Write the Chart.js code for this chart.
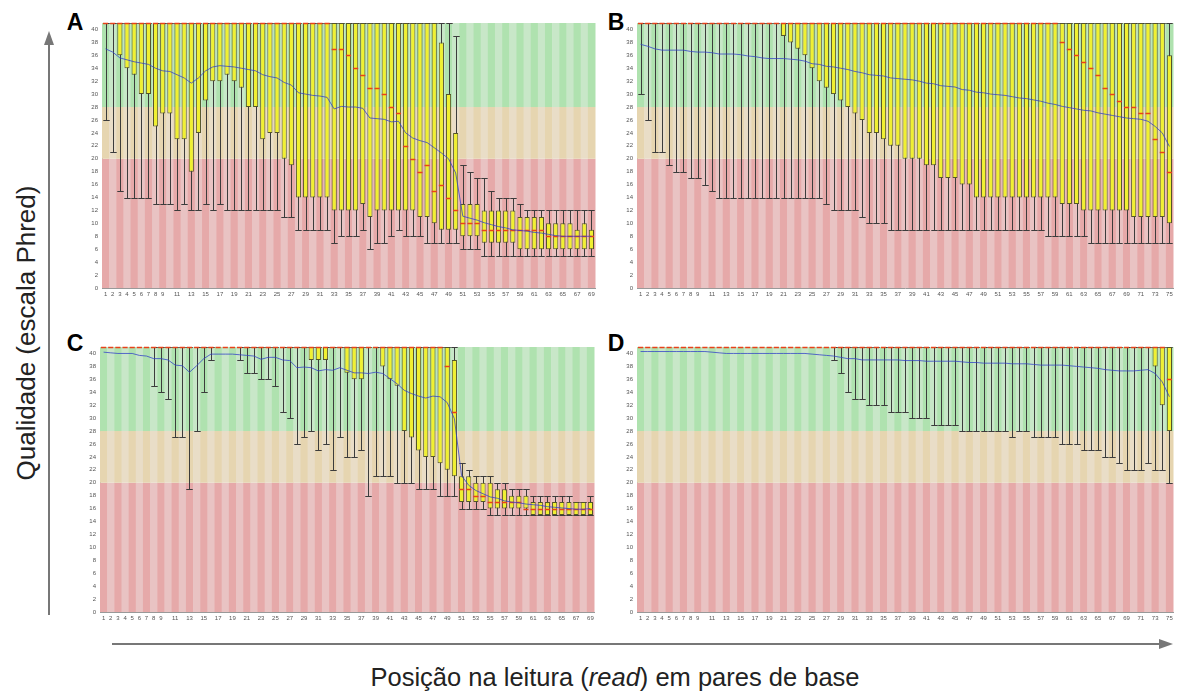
<!DOCTYPE html>
<html>
<head>
<meta charset="utf-8">
<title>Qualidade por posição</title>
<script src="https://cdn.jsdelivr.net/npm/chart.js@4.4.1/dist/chart.umd.min.js"></script>
<style>
    body { margin: 0; background: #fff; }
    #page { position: relative; width: 1179px; height: 693px; overflow: hidden; font-family: "Liberation Sans", Arial, sans-serif; }
    .panel { position: absolute; }
    .tag { position: absolute; font-weight: bold; font-size: 23px; color: #000; transform: translate(-50%, -50%); }
    #yTitle { position: absolute; left: 26px; top: 333px; font-size: 26px; color: #222; white-space: nowrap; transform: translate(-50%, -50%) rotate(-90deg); }
    #xTitle { position: absolute; left: 615px; top: 677px; font-size: 25.5px; color: #222; white-space: nowrap; transform: translate(-50%, -50%); }
    #arrows { position: absolute; left: 0; top: 0; }
</style>
</head>
<body>
<div id="page">
    <svg id="arrows" width="1179" height="693">
        <line x1="49" y1="615" x2="49" y2="42" stroke="#777" stroke-width="2"/>
        <polygon points="49,31 44,45 54,45" fill="#777"/>
        <line x1="112" y1="644" x2="1162" y2="644" stroke="#777" stroke-width="2"/>
        <polygon points="1173,644 1159,639 1159,649" fill="#777"/>
    </svg>

    <div class="tag" style="left:75px; top:22px">A</div>
    <div class="tag" style="left:616px; top:22px">B</div>
    <div class="tag" style="left:75px; top:343px">C</div>
    <div class="tag" style="left:616px; top:343px">D</div>

    <canvas id="chartA" class="panel" width="519" height="281" style="left:80px; top:20px"></canvas>
    <canvas id="chartB" class="panel" width="562" height="281" style="left:615px; top:20px"></canvas>
    <canvas id="chartC" class="panel" width="520" height="281" style="left:78px; top:344px"></canvas>
    <canvas id="chartD" class="panel" width="562" height="281" style="left:615px; top:344px"></canvas>

    <div id="yTitle">Qualidade (escala Phred)</div>
    <div id="xTitle">Posição na leitura (<i>read</i>) em pares de base</div>
</div>

<script>
// Phred scale ticks and the red / orange / green quality zones
const yTicks = [0, 2, 4, 6, 8, 10, 12, 14, 16, 18, 20, 22, 24, 26, 28, 30, 32, 34, 36, 38, 40];
const bandEdges = [0, 20, 28, 41];
const bandColors = [['#e6a9a9', '#e9c3c3'], ['#e6d5b0', '#e9ddc7'], ['#afe2af', '#c8e7c8']];

// Amostra A - 69 pb
const aLow = [26, 21, 15, 14, 14, 14, 14, 13, 13, 13,
    12, 13, 12, 12, 13, 12, 13, 12, 12, 12,
    12, 12, 12, 12, 12, 11, 11, 9, 9, 9,
    9, 9, 7, 8, 8, 8, 9, 6, 7, 7,
    8, 9, 8, 8, 8, 7, 7, 7, 7, 7,
    6, 6, 6, 5, 5, 5, 5, 5, 5, 5,
    5, 5, 5, 5, 5, 5, 5, 5, 5];
const aQ1 = [41, 41, 36, 34, 33, 30, 30, 25, 27, 27,
    23, 23, 18, 24, 29, 32, 32, 33, 32, 31,
    28, 28, 23, 24, 24, 20, 19, 14, 14, 14,
    14, 14, 12, 12, 12, 12, 13, 11, 12, 12,
    12, 12, 12, 12, 11, 11, 10, 9, 9, 9,
    8, 8, 8, 7, 7, 7, 7, 7, 6, 6,
    6, 6, 6, 6, 6, 6, 6, 6, 6];
const aMed = [41, 41, 41, 41, 41, 41, 41, 41, 41, 41,
    41, 41, 41, 41, 41, 41, 41, 41, 41, 41,
    41, 41, 41, 41, 41, 41, 41, 41, 41, 41,
    41, 41, 37, 37, 36, 34, 33, 31, 31, 30,
    28, 27, 22, 20, 18, 19, 15, 16, 14, 12,
    10, 10, 10, 9, 9, 9, 9, 9, 9, 9,
    9, 9, 8, 8, 8, 8, 8, 8, 8];
const aQ3 = [41, 41, 41, 41, 41, 41, 41, 41, 41, 41,
    41, 41, 41, 41, 41, 41, 41, 41, 41, 41,
    41, 41, 41, 41, 41, 41, 41, 41, 41, 41,
    41, 41, 41, 41, 41, 41, 41, 41, 41, 41,
    41, 41, 41, 41, 41, 41, 41, 38, 30, 24,
    13, 13, 13, 12, 12, 12, 12, 12, 11, 11,
    11, 11, 10, 10, 10, 10, 9, 10, 9];
const aHigh = [41, 41, 41, 41, 41, 41, 41, 41, 41, 41,
    41, 41, 41, 41, 41, 41, 41, 41, 41, 41,
    41, 41, 41, 41, 41, 41, 41, 41, 41, 41,
    41, 41, 41, 41, 41, 41, 41, 41, 41, 41,
    41, 41, 41, 41, 41, 41, 41, 41, 41, 39,
    19, 18, 17, 17, 15, 14, 14, 14, 13, 12,
    12, 12, 12, 12, 12, 12, 12, 12, 12];
const aMean = [37, 36.5, 35.6, 35.3, 35, 34.8, 34.6, 34, 33.6, 33.5,
    33, 32.5, 31.7, 32.5, 33.6, 34.2, 34.4, 34.3, 34.2, 34,
    33.8, 33.6, 33, 32.7, 32.5, 31.8, 31.4, 30.2, 30, 29.8,
    29.7, 29.5, 27.7, 28.1, 28, 28, 27.8, 26.3, 26.2, 26.1,
    25.7, 25.8, 24, 23.2, 22.8, 22.5, 21.7, 20.9, 20, 17.8,
    11.1, 10.8, 10.5, 10.1, 9.8, 9.5, 9.3, 9, 8.9, 8.8,
    8.6, 8.5, 8.3, 8.1, 8, 8, 8, 8, 8];

// Amostra B - 75 pb
const bLow = [30, 26, 21, 21, 19, 18, 18, 17, 17, 16,
    15, 14, 14, 14, 14, 14, 14, 14, 14, 14,
    14, 14, 14, 14, 14, 14, 13, 12, 12, 12,
    12, 11, 10, 10, 10, 9, 9, 9, 9, 9,
    9, 9, 9, 9, 9, 9, 9, 9, 9, 9,
    9, 9, 9, 9, 9, 9, 9, 8, 8, 8,
    8, 8, 8, 7, 7, 7, 7, 7, 7, 7,
    7, 7, 7, 7, 7];
const bQ1 = [41, 41, 41, 41, 41, 41, 41, 41, 41, 41,
    41, 41, 41, 41, 41, 41, 41, 41, 41, 41,
    39, 38, 37, 36, 34, 32, 31, 30, 29, 28,
    27, 26, 24, 24, 23, 22, 22, 20, 20, 20,
    19, 19, 17, 17, 17, 16, 16, 14, 14, 14,
    14, 14, 14, 14, 14, 14, 14, 14, 14, 13,
    13, 13, 12, 12, 12, 12, 12, 12, 12, 11,
    11, 11, 11, 11, 10];
const bMed = [41, 41, 41, 41, 41, 41, 41, 41, 41, 41,
    41, 41, 41, 41, 41, 41, 41, 41, 41, 41,
    41, 41, 41, 41, 41, 41, 41, 41, 41, 41,
    41, 41, 41, 41, 41, 41, 41, 41, 41, 41,
    41, 41, 41, 41, 41, 41, 41, 41, 41, 41,
    41, 41, 41, 41, 41, 41, 41, 41, 41, 38,
    37, 36, 35, 34, 33, 31, 30, 29, 28, 28,
    27, 27, 23, 21, 18];
const bQ3 = [41, 41, 41, 41, 41, 41, 41, 41, 41, 41,
    41, 41, 41, 41, 41, 41, 41, 41, 41, 41,
    41, 41, 41, 41, 41, 41, 41, 41, 41, 41,
    41, 41, 41, 41, 41, 41, 41, 41, 41, 41,
    41, 41, 41, 41, 41, 41, 41, 41, 41, 41,
    41, 41, 41, 41, 41, 41, 41, 41, 41, 41,
    41, 41, 41, 41, 41, 41, 41, 41, 41, 41,
    41, 41, 41, 41, 36];
const bHigh = [41, 41, 41, 41, 41, 41, 41, 41, 41, 41,
    41, 41, 41, 41, 41, 41, 41, 41, 41, 41,
    41, 41, 41, 41, 41, 41, 41, 41, 41, 41,
    41, 41, 41, 41, 41, 41, 41, 41, 41, 41,
    41, 41, 41, 41, 41, 41, 41, 41, 41, 41,
    41, 41, 41, 41, 41, 41, 41, 41, 41, 41,
    41, 41, 41, 41, 41, 41, 41, 41, 41, 41,
    41, 41, 41, 41, 41];
const bMean = [37.7, 37.4, 37, 36.8, 36.8, 36.8, 36.8, 36.6, 36.5, 36.5,
    36.4, 36.2, 36.2, 36.2, 36.1, 35.9, 35.8, 35.6, 35.5, 35.5,
    35.5, 35.4, 35.3, 35.1, 34.7, 34.6, 34.3, 34.2, 34, 33.8,
    33.5, 33.3, 33, 32.9, 32.8, 32.5, 32.4, 32.3, 32.2, 32,
    31.7, 31.6, 31.3, 31.2, 31.1, 30.7, 30.6, 30.3, 30.2, 30,
    29.9, 29.8, 29.6, 29.4, 29.3, 29.1, 28.9, 28.6, 28.4, 28.1,
    27.9, 27.7, 27.5, 27.4, 27.1, 26.9, 26.7, 26.5, 26.3, 26.2,
    26.1, 25.8, 25, 24, 21.9];

// Amostra C - 69 pb
const cLow = [41, 41, 41, 41, 41, 41, 41, 35, 34, 33,
    27, 27, 19, 28, 34, 39, 41, 41, 41, 39,
    37, 37, 36, 36, 35, 31, 30, 26, 27, 28,
    25, 26, 22, 27, 24, 24, 25, 18, 21, 21,
    21, 20, 20, 20, 19, 19, 19, 18, 18, 18,
    16, 16, 16, 16, 15, 15, 15, 15, 15, 15,
    15, 15, 15, 15, 15, 15, 15, 15, 15];
const cQ1 = [41, 41, 41, 41, 41, 41, 41, 41, 41, 41,
    41, 41, 41, 41, 41, 41, 41, 41, 41, 41,
    41, 41, 41, 41, 41, 41, 41, 41, 41, 39,
    39, 39, 41, 41, 37, 36, 36, 41, 41, 38,
    36, 35, 28, 27, 25, 24, 24, 23, 22, 21,
    17, 17, 17, 17, 16, 16, 16, 16, 16, 16,
    15, 15, 15, 15, 15, 15, 15, 15, 15];
const cMed = [41, 41, 41, 41, 41, 41, 41, 41, 41, 41,
    41, 41, 41, 41, 41, 41, 41, 41, 41, 41,
    41, 41, 41, 41, 41, 41, 41, 41, 41, 41,
    41, 41, 41, 41, 41, 41, 41, 41, 41, 41,
    41, 41, 41, 41, 41, 41, 41, 41, 38, 31,
    19, 19, 18, 18, 17, 17, 17, 17, 17, 16,
    16, 16, 16, 16, 16, 16, 16, 16, 16];
const cQ3 = [41, 41, 41, 41, 41, 41, 41, 41, 41, 41,
    41, 41, 41, 41, 41, 41, 41, 41, 41, 41,
    41, 41, 41, 41, 41, 41, 41, 41, 41, 41,
    41, 41, 41, 41, 41, 41, 41, 41, 41, 41,
    41, 41, 41, 41, 41, 41, 41, 41, 41, 39,
    21, 21, 20, 20, 20, 19, 19, 18, 18, 18,
    17, 17, 17, 17, 17, 17, 17, 17, 17];
const cHigh = [41, 41, 41, 41, 41, 41, 41, 41, 41, 41,
    41, 41, 41, 41, 41, 41, 41, 41, 41, 41,
    41, 41, 41, 41, 41, 41, 41, 41, 41, 41,
    41, 41, 41, 41, 41, 41, 41, 41, 41, 41,
    41, 41, 41, 41, 41, 41, 41, 41, 41, 41,
    23, 22, 21, 21, 21, 20, 20, 19, 19, 19,
    18, 18, 18, 18, 18, 18, 17, 17, 18];
const cMean = [40.2, 40.1, 40, 40, 40, 39.7, 39.6, 39.2, 39.2, 39,
    38.2, 38.1, 37.1, 38.1, 39.2, 39.9, 39.9, 39.9, 39.9, 39.8,
    39.7, 39.6, 39.1, 39.4, 39.4, 39, 38.9, 37.8, 37.9, 37.8,
    37.3, 37.5, 37.4, 37.8, 37.4, 37, 37, 36.9, 37.1, 36.9,
    36.1, 35.3, 34.3, 33.8, 33.4, 33.1, 33.4, 33.3, 32.4, 29.9,
    21.1, 19.6, 18.8, 18.3, 17.8, 17.6, 17.2, 17, 16.9, 16.7,
    16.6, 16.5, 16.3, 16.2, 16.1, 16, 15.9, 15.9, 16];

// Amostra D - 75 pb
const dLow = [41, 41, 41, 41, 41, 41, 41, 41, 41, 41,
    41, 41, 41, 41, 41, 41, 41, 41, 41, 41,
    41, 41, 41, 41, 41, 41, 41, 39, 37, 34,
    33, 33, 32, 32, 32, 31, 31, 31, 30, 30,
    30, 29, 29, 29, 29, 28, 28, 28, 28, 28,
    28, 28, 27, 28, 28, 27, 27, 27, 27, 26,
    26, 26, 25, 25, 25, 24, 24, 23, 22, 22,
    22, 23, 22, 22, 20];
const dQ1 = [41, 41, 41, 41, 41, 41, 41, 41, 41, 41,
    41, 41, 41, 41, 41, 41, 41, 41, 41, 41,
    41, 41, 41, 41, 41, 41, 41, 41, 41, 41,
    41, 41, 41, 41, 41, 41, 41, 41, 41, 41,
    41, 41, 41, 41, 41, 41, 41, 41, 41, 41,
    41, 41, 41, 41, 41, 41, 41, 41, 41, 41,
    41, 41, 41, 41, 41, 41, 41, 41, 41, 41,
    41, 41, 38, 32, 28];
const dMed = [41, 41, 41, 41, 41, 41, 41, 41, 41, 41,
    41, 41, 41, 41, 41, 41, 41, 41, 41, 41,
    41, 41, 41, 41, 41, 41, 41, 41, 41, 41,
    41, 41, 41, 41, 41, 41, 41, 41, 41, 41,
    41, 41, 41, 41, 41, 41, 41, 41, 41, 41,
    41, 41, 41, 41, 41, 41, 41, 41, 41, 41,
    41, 41, 41, 41, 41, 41, 41, 41, 41, 41,
    41, 41, 41, 41, 36];
const dQ3 = [41, 41, 41, 41, 41, 41, 41, 41, 41, 41,
    41, 41, 41, 41, 41, 41, 41, 41, 41, 41,
    41, 41, 41, 41, 41, 41, 41, 41, 41, 41,
    41, 41, 41, 41, 41, 41, 41, 41, 41, 41,
    41, 41, 41, 41, 41, 41, 41, 41, 41, 41,
    41, 41, 41, 41, 41, 41, 41, 41, 41, 41,
    41, 41, 41, 41, 41, 41, 41, 41, 41, 41,
    41, 41, 41, 41, 41];
const dHigh = [41, 41, 41, 41, 41, 41, 41, 41, 41, 41,
    41, 41, 41, 41, 41, 41, 41, 41, 41, 41,
    41, 41, 41, 41, 41, 41, 41, 41, 41, 41,
    41, 41, 41, 41, 41, 41, 41, 41, 41, 41,
    41, 41, 41, 41, 41, 41, 41, 41, 41, 41,
    41, 41, 41, 41, 41, 41, 41, 41, 41, 41,
    41, 41, 41, 41, 41, 41, 41, 41, 41, 41,
    41, 41, 41, 41, 41];
const dMean = [40.3, 40.3, 40.3, 40.3, 40.3, 40.3, 40.3, 40.3, 40.3, 40.3,
    40.2, 40.1, 40, 40, 40, 40, 40, 40, 40, 40,
    40, 40, 40, 40, 39.9, 39.8, 39.7, 39.6, 39.4, 39.2,
    39.2, 39, 39, 39, 39, 39, 39, 38.9, 38.9, 38.9,
    38.8, 38.8, 38.8, 38.8, 38.8, 38.7, 38.6, 38.6, 38.5, 38.5,
    38.5, 38.5, 38.4, 38.4, 38.4, 38.3, 38.2, 38.2, 38.2, 38.2,
    38.1, 38, 37.9, 37.8, 37.7, 37.5, 37.4, 37.3, 37.3, 37.3,
    37.4, 37.5, 36.9, 35.6, 33.3];

// background zones, whiskers (10%-90%) and medians
const boxPlotPlugin = {
    id: 'boxPlot',
    beforeDatasetsDraw(chart) {
        const { ctx, scales: { x, y } } = chart;
        const box = chart.data.datasets[0];
        const n = chart.data.labels.length;
        const step = x.getPixelForValue(1) - x.getPixelForValue(0);
        ctx.save();
        bandColors.forEach((pair, b) => {
            const top = y.getPixelForValue(bandEdges[b + 1]);
            const bottom = y.getPixelForValue(bandEdges[b]);
            for (let i = 0; i < n; i++) {
                ctx.fillStyle = pair[i % 2];
                ctx.fillRect(x.getPixelForValue(i) - step / 2, top, step + 0.5, bottom - top);
            }
        });

        ctx.strokeStyle = '#3c3c3c';
        ctx.lineWidth = 1;
        const capHalf = step * 0.45;
        for (let i = 0; i < n; i++) {
            if (box.low[i] === box.high[i]) continue;
            const cx = Math.round(x.getPixelForValue(i)) + 0.5;
            const yLo = Math.round(y.getPixelForValue(box.low[i])) + 0.5;
            const yHi = Math.round(y.getPixelForValue(box.high[i])) + 0.5;
            ctx.beginPath();
            ctx.moveTo(cx, yLo);
            ctx.lineTo(cx, yHi);
            ctx.moveTo(cx - capHalf, yLo);
            ctx.lineTo(cx + capHalf, yLo);
            ctx.moveTo(cx - capHalf, yHi);
            ctx.lineTo(cx + capHalf, yHi);
            ctx.stroke();
        }
        ctx.restore();
    },
    afterDatasetDraw(chart, args) {
        if (args.index !== 0) return;
        const { ctx, scales: { x, y } } = chart;
        const box = chart.data.datasets[0];
        const half = (x.getPixelForValue(1) - x.getPixelForValue(0)) * 0.36;
        ctx.save();
        ctx.strokeStyle = '#e8421a';
        ctx.lineWidth = 1.5;
        box.med.forEach((m, i) => {
            const cx = x.getPixelForValue(i);
            const my = Math.round(y.getPixelForValue(m)) + 0.5;
            ctx.beginPath();
            ctx.moveTo(cx - half, my);
            ctx.lineTo(cx + half, my);
            ctx.stroke();
        });
        ctx.restore();
    }
};

function renderQualityChart(canvasId, low, q1, med, q3, high, mean) {
    const labels = mean.map((v, i) => String(i + 1));
    const ctx = document.getElementById(canvasId).getContext('2d');
    return new Chart(ctx, {
        type: 'bar',
        data: {
            labels: labels,
            datasets: [{
                type: 'bar',
                data: q1.map((v, i) => [v, q3[i]]),
                low: low,
                med: med,
                high: high,
                backgroundColor: '#f0f032',
                borderColor: '#55552a',
                borderWidth: 1,
                borderSkipped: false,
                barPercentage: 0.72,
                categoryPercentage: 1,
                grouped: false,
                order: 2
            }, {
                type: 'line',
                data: mean,
                borderColor: 'rgba(45, 60, 200, 0.75)',
                borderWidth: 1,
                pointRadius: 0,
                tension: 0,
                order: 1
            }]
        },
        options: {
            responsive: false,
            animation: false,
            events: [],
            layout: { autoPadding: false, padding: { top: 3, right: 4, left: 0, bottom: 0 } },
            plugins: { legend: { display: false }, tooltip: { enabled: false } },
            scales: {
                x: {
                    grid: { display: false, drawTicks: false },
                    border: { color: '#999' },
                    ticks: {
                        autoSkip: false,
                        maxRotation: 0,
                        padding: 3,
                        color: '#555',
                        font: { size: 6 },
                        // 1-9 all shown, then every other position
                        callback: (v, i) => (i < 9 || i % 2 === 0) ? labels[i] : ''
                    },
                    afterFit: scale => {
                        scale.height = 13;
                        scale.paddingLeft = 0;
                        scale.paddingRight = 0;
                    }
                },
                y: {
                    min: 0,
                    max: 41,
                    grid: { display: false, drawTicks: false },
                    border: { color: '#999' },
                    ticks: { padding: 4, color: '#555', font: { size: 6 } },
                    afterBuildTicks: scale => { scale.ticks = yTicks.map(v => ({ value: v })); },
                    afterFit: scale => {
                        scale.width = 22;
                        scale.paddingTop = 0;
                        scale.paddingBottom = 0;
                    }
                }
            }
        },
        plugins: [boxPlotPlugin]
    });
}

renderQualityChart('chartA', aLow, aQ1, aMed, aQ3, aHigh, aMean);
renderQualityChart('chartB', bLow, bQ1, bMed, bQ3, bHigh, bMean);
renderQualityChart('chartC', cLow, cQ1, cMed, cQ3, cHigh, cMean);
renderQualityChart('chartD', dLow, dQ1, dMed, dQ3, dHigh, dMean);
</script>
</body>
</html>
